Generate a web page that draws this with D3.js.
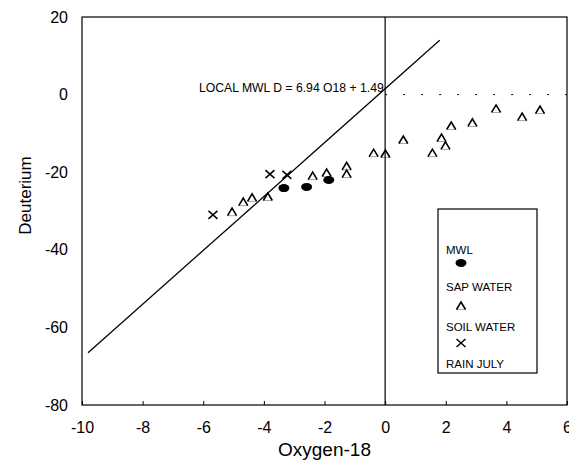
<!DOCTYPE html>
<html>
<head>
<meta charset="utf-8">
<script src="https://cdn.jsdelivr.net/npm/d3@7"></script>
<style>
  body { margin: 0; background: #fff; }
  svg { display: block; font-family: "Liberation Sans", Arial, Helvetica, sans-serif; }
</style>
</head>
<body>
<div id="chart"></div>
<script>
var width = 569, height = 466;

// Oxygen-18 / Deuterium pairs
var mwlPoints = [[-3.34, -24.1], [-2.59, -23.8], [-1.86, -22.0]];
var sapWater = [
    [-5.05, -30.3], [-4.68, -27.7], [-4.39, -26.6], [-3.87, -26.4],
    [-2.39, -21.0], [-1.93, -20.2], [-1.27, -18.5], [-1.27, -20.5],
    [-0.38, -15.1], [0.01, -15.3], [0.60, -11.7], [1.56, -15.1],
    [1.86, -11.2], [1.99, -13.2], [2.18, -8.1], [2.88, -7.3],
    [3.66, -3.7], [4.52, -5.8], [5.11, -4.0]
];
var soilWater = [[-5.68, -31.0], [-3.80, -20.5], [-3.24, -20.7]];
var xTicks = [-10, -8, -6, -4, -2, 0, 2, 4, 6];
var yTicks = [20, 0, -20, -40, -60, -80];
var legendLabels = ["MWL", "SAP WATER", "SOIL WATER", "RAIN JULY"];

// local meteoric water line D = 6.94 O18 + 1.49
var mwlSlope = 6.94, mwlIntercept = 1.49, mwlRange = [-9.8, 1.8];

var svg = d3.select("#chart").append("svg")
    .attr("width", width)
    .attr("height", height);

var x = d3.scaleLinear().domain([-10, 6]).range([82, 567]);
var y = d3.scaleLinear().domain([-80, 20]).range([405, 17]);

// plain hyphen for negatives, like the original
var fmt = function (d) { return String(d); };

// x axis, ticks pointing into the plot
svg.append("g")
    .attr("transform", "translate(0," + y(-80) + ")")
    .call(d3.axisBottom(x).tickValues(xTicks).tickSize(-4).tickPadding(17).tickFormat(fmt))
    .call(function (g) {
        g.select(".domain").remove();
        g.selectAll("text").style("font-size", "16px").attr("fill", "#000");
        g.selectAll("line").attr("stroke", "#000");
    });

svg.append("g")
    .attr("transform", "translate(" + x(-10) + ",0)")
    .call(d3.axisLeft(y).tickValues(yTicks).tickSize(0).tickPadding(14).tickFormat(fmt))
    .call(function (g) {
        g.select(".domain").remove();
        g.selectAll("text").style("font-size", "16px").attr("fill", "#000");
    });

// frame
svg.append("rect")
    .attr("x", x(-10))
    .attr("y", y(20))
    .attr("width", x(6) - x(-10))
    .attr("height", y(-80) - y(20))
    .attr("fill", "none")
    .attr("stroke", "#000")
    .attr("stroke-width", 1.2);

// zero lines
svg.append("line")
    .attr("x1", x(0)).attr("x2", x(0))
    .attr("y1", y(20)).attr("y2", y(-80))
    .attr("stroke", "#000").attr("stroke-width", 1.2);

svg.append("line")
    .attr("x1", x(0)).attr("x2", x(6))
    .attr("y1", y(0)).attr("y2", y(0))
    .attr("stroke", "#000").attr("stroke-width", 1)
    .attr("stroke-dasharray", "2,16");

// MWL line
svg.append("line")
    .attr("x1", x(mwlRange[0])).attr("y1", y(mwlSlope * mwlRange[0] + mwlIntercept))
    .attr("x2", x(mwlRange[1])).attr("y2", y(mwlSlope * mwlRange[1] + mwlIntercept))
    .attr("stroke", "#000").attr("stroke-width", 1.3);

svg.append("text")
    .attr("x", 199)
    .attr("y", y(0) - 3)
    .style("font-size", "12.2px")
    .text("LOCAL MWL D = 6.94 O18 + 1.49");

// markers
function caret(sel) {
    sel.append("path")
        .attr("d", "M-4.5,3.5 L0,-4 L4.5,3.5")
        .attr("fill", "none").attr("stroke", "#000").attr("stroke-width", 1.6);
    sel.append("path")
        .attr("d", "M-4.5,3.5 L4.5,3.5")
        .attr("fill", "none").attr("stroke", "#000").attr("stroke-width", 0.8)
        .attr("stroke-opacity", 0.45);
}

function cross(sel) {
    sel.append("path")
        .attr("d", "M-4.5,-4 L4.5,4 M-4.5,4 L4.5,-4")
        .attr("fill", "none").attr("stroke", "#000").attr("stroke-width", 1.5);
}

function blob(sel) {
    sel.append("ellipse")
        .attr("rx", 5.5).attr("ry", 4)
        .attr("fill", "#000");
}

svg.append("g").selectAll("g").data(sapWater).join("g")
    .attr("transform", function (d) { return "translate(" + x(d[0]) + "," + y(d[1]) + ")"; })
    .call(caret);

svg.append("g").selectAll("g").data(soilWater).join("g")
    .attr("transform", function (d) { return "translate(" + x(d[0]) + "," + y(d[1]) + ")"; })
    .call(cross);

svg.append("g").selectAll("g").data(mwlPoints).join("g")
    .attr("transform", function (d) { return "translate(" + x(d[0]) + "," + y(d[1]) + ")"; })
    .call(blob);

// legend
var legend = svg.append("g").attr("transform", "translate(438,209)");
legend.append("rect")
    .attr("width", 99).attr("height", 164)
    .attr("fill", "#fff").attr("stroke", "#000").attr("stroke-width", 1.2);

var legendY = [41, 78, 118, 155];
legend.selectAll("text").data(legendLabels).join("text")
    .attr("x", 8)
    .attr("y", function (d, i) { return legendY[i] + 4; })
    .style("font-size", "11.5px")
    .text(function (d) { return d; });

legend.append("g").attr("transform", "translate(23,54)").call(blob);
legend.append("g").attr("transform", "translate(23,97)").call(caret);
legend.append("g").attr("transform", "translate(23,134)").call(cross);

svg.append("text")
    .attr("x", x(-2))
    .attr("y", 456)
    .attr("text-anchor", "middle")
    .style("font-size", "19px")
    .text("Oxygen-18");

svg.append("text")
    .attr("transform", "translate(31," + y(-26) + ") rotate(-90)")
    .attr("text-anchor", "middle")
    .style("font-size", "17px")
    .text("Deuterium");
</script>
</body>
</html>
